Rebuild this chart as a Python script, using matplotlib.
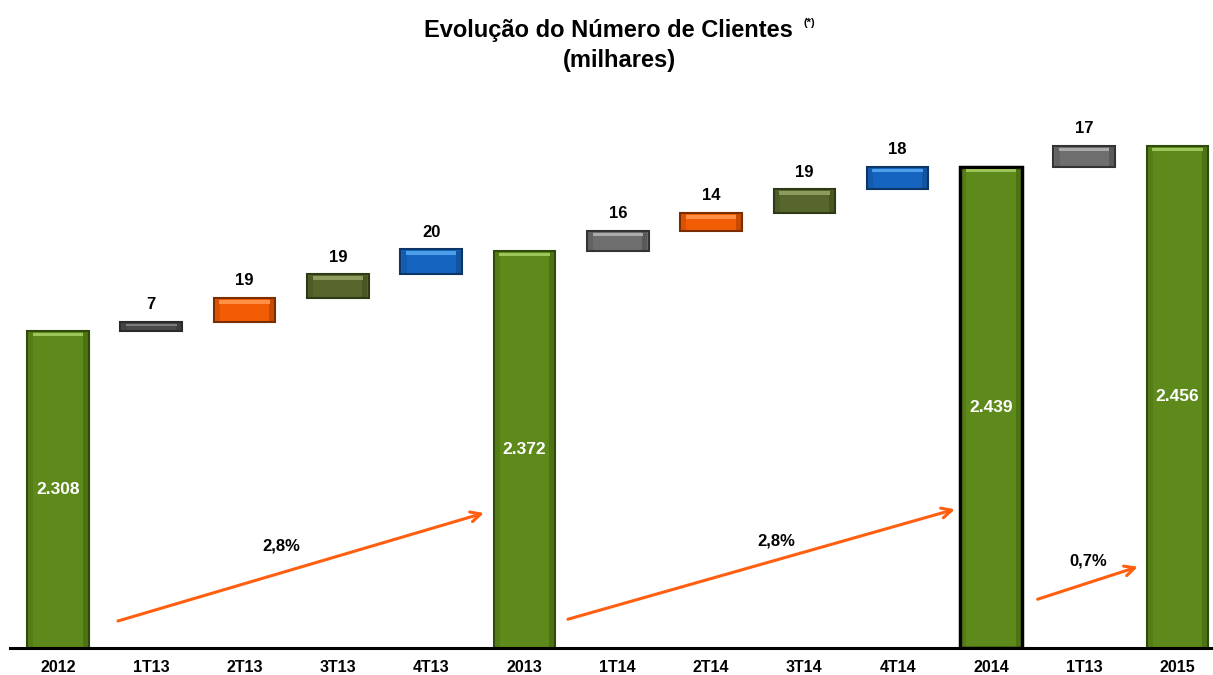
import numpy as np
import matplotlib
matplotlib.use("Agg")
import matplotlib.pyplot as plt

plt.rcParams['font.family'] = ['Liberation Sans', 'DejaVu Sans']

# data (milhares de clientes)
categories = ['2012', '1T13', '2T13', '3T13', '4T13', '2013',
              '1T14', '2T14', '3T14', '4T14', '2014', '1T13', '2015']
total_idx = [0, 5, 10, 12]
totals = [2308, 2372, 2439, 2456]
increments = [7, 19, 19, 20, 16, 14, 19, 18, 17]

# styles
green = ('#5E8A1C', '#9CC65A', '#2F4A0A')
dgray = ('#4A4A4A', '#7C7C7C', '#2A2A2A')
lgray = ('#6E6E6E', '#ABABAB', '#333333')
orange = ('#F25C05', '#FF9045', '#7A2E00')
olive = ('#56662C', '#8C9C5E', '#2E3A15')
blue = ('#1565C0', '#4E9FEA', '#0D3566')
inc_styles = [dgray, orange, olive, blue, lgray, orange, olive, blue, lgray]

fig = plt.figure(figsize=(12.13, 6.75), dpi=100)
ax = fig.add_axes([10 / 1213, 27 / 675, 1 - 10 / 1213, (648 - 120) / 675])

width = 0.66
x = np.arange(len(categories))

# build bottoms / heights / styles for every column
bottoms, heights, styles, is_total = [], [], [], []
running = None
k = 0
t = 0
for i in range(len(categories)):
    if i in total_idx:
        val = totals[t]
        t += 1
        bottoms.append(0)
        heights.append(val)
        styles.append(green)
        is_total.append(True)
        running = val
    else:
        inc = increments[k]
        bottoms.append(running)
        heights.append(inc)
        styles.append(inc_styles[k])
        is_total.append(False)
        running += inc
        k += 1

ymin = 2054
ax.set_ylim(ymin, ymin + 528 / 1.25)
ax.set_xlim(-0.514, 12.38)

for i in range(len(categories)):
    face, hi, edge = styles[i]
    b = bottoms[i] if not is_total[i] else ymin
    h = heights[i] if not is_total[i] else heights[i] - ymin
    top = b + h
    lw = 2.5 if categories[i] == '2014' else 1.5
    ec = '#000000' if categories[i] == '2014' else edge
    ax.bar(x[i], h, width, bottom=b, color=face, edgecolor=ec, linewidth=lw, zorder=2)
    # darker side shading
    ax.bar(x[i] + width * 0.44, h - 1.5, width * 0.08, bottom=b + 0.5,
           color=edge, alpha=0.35, linewidth=0, zorder=3)
    ax.bar(x[i] - width * 0.44, h - 1.5, width * 0.08, bottom=b + 0.5,
           color=edge, alpha=0.2, linewidth=0, zorder=3)
    # highlight strip near the top
    hh = 2.8 if is_total[i] or heights[i] > 12 else 1.8
    ax.bar(x[i], hh, width * 0.82, bottom=top - 1.6 - hh, color=hi,
           linewidth=0, zorder=3)

    if is_total[i]:
        label = f"{heights[i]:,}".replace(',', '.')
        ax.text(x[i], (ymin + top) / 2, label, ha='center', va='center',
                color='white', fontsize=12.5, fontweight='bold', zorder=4)
    else:
        ax.annotate(str(heights[i]), (x[i], top), xytext=(0, 7),
                    textcoords='offset points', ha='center', va='bottom',
                    fontsize=12, fontweight='bold', zorder=4)

# growth arrows between year totals
arrow_pos = [
    ((0.643, 2075.6), (4.566, 2162.0), (2.39, 2135.6)),
    ((5.466, 2077.0), (9.614, 2165.0), (7.695, 2140.0)),
    ((10.50, 2093.0), (11.575, 2119.0), (11.04, 2123.6)),
]
for j, (start, end, lab) in enumerate(arrow_pos):
    growth = (totals[j + 1] / totals[j] - 1) * 100
    ax.annotate('', xy=end, xytext=start,
                arrowprops=dict(arrowstyle='->', color='#FF5F0F', lw=2.2,
                                mutation_scale=18, shrinkA=0, shrinkB=0),
                zorder=5)
    ax.text(lab[0], lab[1], f"{growth:.1f}%".replace('.', ','), ha='center',
            va='center', fontsize=12, fontweight='bold', zorder=5)

for s in ['top', 'right', 'left']:
    ax.spines[s].set_visible(False)
ax.spines['bottom'].set_linewidth(2.2)
ax.spines['bottom'].set_color('black')
ax.set_yticks([])
ax.set_xticks(x)
ax.set_xticklabels(categories, fontsize=11.5, fontweight='bold')
ax.tick_params(axis='x', length=0, pad=9)

fig.text(608 / 1213, 1 - 31 / 675, 'Evolução do Número de Clientes',
         ha='center', va='center', fontsize=17, fontweight='bold')
fig.text(803 / 1213, 1 - 23 / 675, '(*)', ha='left', va='center',
         fontsize=8, fontweight='bold')
fig.text(619 / 1213, 1 - 60 / 675, '(milhares)', ha='center', va='center',
         fontsize=17, fontweight='bold')

fig.savefig('out.png', dpi=100)
